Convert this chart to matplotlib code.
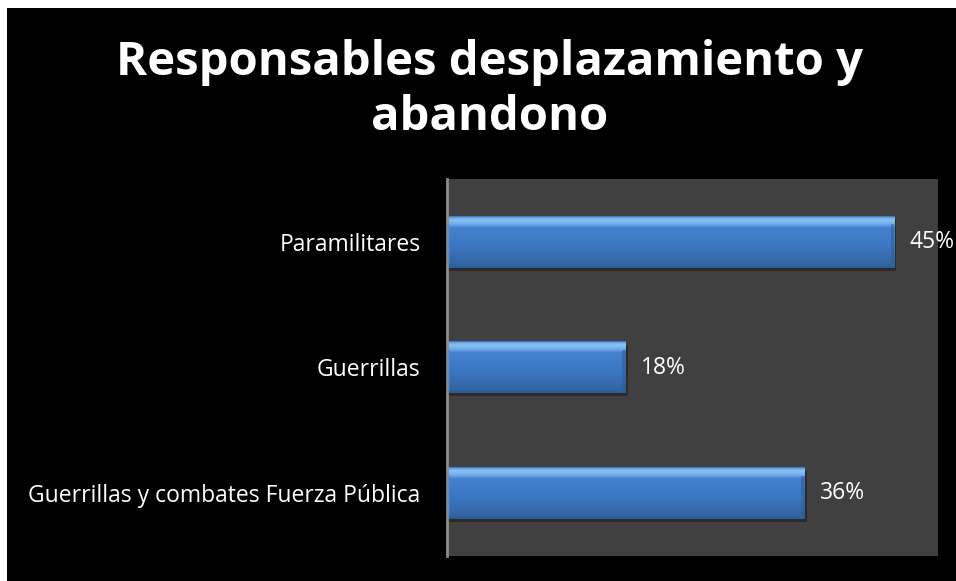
import matplotlib.pyplot as plt
import numpy as np
from matplotlib.colors import LinearSegmentedColormap

categorias = ['Guerrillas y combates Fuerza Pública', 'Guerrillas', 'Paramilitares']
valores = [36, 18, 45]
etiquetas = ['36%', '18%', '45%']
titulo = ['Responsables desplazamiento y', 'abandono']

plt.rcParams['font.family'] = ['Open Sans', 'DejaVu Sans']

fig = plt.figure(figsize=(9.56, 5.81), dpi=100, facecolor='white')
# black panel with thin white margin on top/left
fig.patches.append(plt.Rectangle((7 / 956, 0), 1, 1 - 8 / 581, transform=fig.transFigure,
                                 facecolor='black', edgecolor='none', zorder=-5))

ax = fig.add_axes([447 / 956, 25 / 581, (938 - 447) / 956, (556 - 179) / 581])
ax.set_facecolor('#404040')

y = np.arange(len(categorias))
h = 0.41

# bevel look: vertical gradient per bar
cmap = LinearSegmentedColormap.from_list('bev', [
    (0.0, '#2c5990'), (0.05, '#3264a2'), (0.40, '#3b76c0'),
    (0.78, '#4382d0'), (0.84, '#6fa9e8'), (0.93, '#88c3f7'), (0.97, '#6fa9e6'), (1.0, '#3a70b5')])
grad = np.linspace(0, 1, 200).reshape(-1, 1)

for yi, v in zip(y, valores):
    # shadow
    ax.barh(yi - 0.025, v + 0.2, height=h, color='#2b2b2b', zorder=1)
    ax.imshow(grad, extent=(0, v, yi - h / 2, yi + h / 2), origin='lower',
              cmap=cmap, aspect='auto', zorder=2, interpolation='bilinear')
    # lighter left edge, darker right edge
    ax.barh(yi - 0.02, 0.35, height=h * 0.78, left=0, color='#4f8ad0', alpha=0.45, zorder=3)
    ax.barh(yi - 0.02, 0.35, height=h * 0.78, left=v - 0.35, color='#2c5a92', alpha=0.5, zorder=3)

for yi, v, t in zip(y, valores, etiquetas):
    ax.text(v + 1.5, yi, t, color='white', fontsize=16.5, va='center', ha='left')

ax.set_xlim(0, 49.4)
ax.set_ylim(-0.5, 2.5)
ax.set_yticks(y)
ax.set_yticklabels(categorias, color='white', fontsize=16.5)
ax.tick_params(axis='y', length=0, pad=19)
ax.set_xticks([])
for s in ['top', 'right', 'bottom']:
    ax.spines[s].set_visible(False)
ax.spines['left'].set_color('#8c8c8c')
ax.spines['left'].set_linewidth(2)

fig.text(490 / 956, 1 - 75 / 581, titulo[0], color='white', fontsize=34, fontweight='bold',
         ha='center', va='baseline')
fig.text(490 / 956, 1 - 130 / 581, titulo[1], color='white', fontsize=34, fontweight='bold',
         ha='center', va='baseline')

fig.savefig('out.png', dpi=100, facecolor='white')
